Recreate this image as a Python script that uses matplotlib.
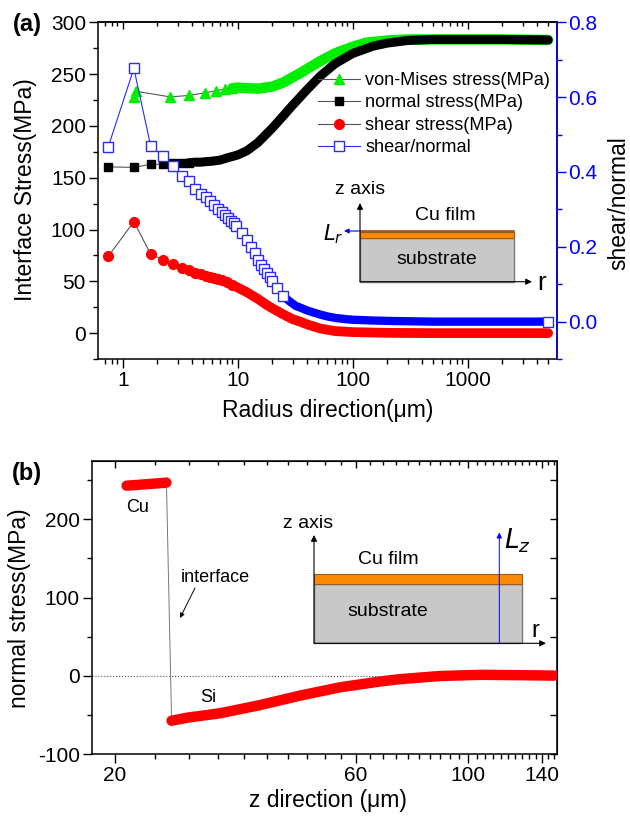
import numpy as np
import matplotlib
matplotlib.use("Agg")
import matplotlib.pyplot as plt
from matplotlib.patches import Rectangle
from matplotlib.ticker import NullFormatter, LogLocator

plt.rcParams["font.family"] = ["Liberation Sans", "DejaVu Sans"]
plt.rcParams["axes.unicode_minus"] = False

# ---- panel (a): interface stress along radius ----
r_vm = [1.25, 1.3, 2.6, 3.8, 5.2, 6.5, 7.8, 9, 10, 12, 15, 20, 25, 30, 35, 40, 52, 70,
        100, 133, 200, 300, 500, 1000, 2000, 5000]
vm = [228, 233.5, 228, 229.5, 232, 234, 236, 236.5, 237, 236.5, 236, 238, 242, 247, 251,
      255, 262.5, 270, 276.5, 280.5, 282.5, 283.5, 283.5, 283.5, 283.5, 283]

r_normal = [0.75, 1.25, 1.75, 2.25, 2.75, 3.25, 3.75, 4.25, 4.75, 5.25, 6, 7, 8, 10, 12,
            15, 20, 25, 30, 35, 40, 52, 70, 100, 150, 200, 300, 500, 1000, 2000, 5000]
normal = [160.5, 160, 163, 163, 164, 164.5, 164.5, 165, 165, 165.5, 166, 167, 169, 172,
          176, 184, 198, 210, 220, 228, 235, 248, 260, 270, 277, 280, 282.5, 283.5, 283.5,
          283.5, 283]

r_shear = [0.75, 1.25, 1.75, 2.25, 2.75, 3.25, 3.75, 4.25, 4.75, 5.25, 5.75, 6.25, 6.75,
           7.25, 8, 9, 10, 12, 15, 18, 20, 25, 30, 35, 40, 52, 70, 100, 200, 500, 1000, 5000]
shear = [74.2, 107.7, 76.1, 71, 67.1, 63.3, 61.3, 58.1, 57, 55.5, 54, 53, 52, 51, 49, 46.5,
         44, 39.5, 33, 27, 24, 18, 13.5, 11, 8.5, 4.5, 2, 1, 0.3, 0, 0, 0]

r_ratio = [0.75, 1.25, 1.75, 2.25, 2.75, 3.25, 3.75, 4.25, 4.75, 5.25, 5.75, 6.25, 6.75,
           7.25, 7.75, 8.25, 8.75, 9.25, 9.75, 11, 12, 13, 14, 15, 16, 17, 18, 19, 20, 22,
           25, 28, 32, 36, 40, 45, 52, 60, 70, 85, 100, 150, 200, 300, 500, 1000, 2000, 5000]
ratio = [0.468, 0.677, 0.470, 0.442, 0.415, 0.390, 0.375, 0.355, 0.341, 0.332, 0.322,
         0.312, 0.302, 0.294, 0.286, 0.278, 0.270, 0.263, 0.255, 0.236, 0.218, 0.200,
         0.183, 0.166, 0.152, 0.140, 0.130, 0.119, 0.108, 0.090, 0.068, 0.055, 0.042,
         0.036, 0.030, 0.025, 0.019, 0.014, 0.010, 0.007, 0.005, 0.003, 0.002, 0.001,
         0.0, 0.0, 0.0, 0.0]

legend_labels = ["von-Mises stress(MPa)", "normal stress(MPa)", "shear stress(MPa)",
                 "shear/normal"]

# ---- panel (b): normal stress along z ----
z_cu = [21.1, 22, 23, 24, 25, 25.3]
cu_stress = [242.5, 243.3, 244.3, 245.2, 246, 246.5]
z_si = [25.9, 27.9, 32.3, 38.8, 46.5, 55.9, 67, 73.4, 88, 106, 127, 148]
si_stress = [-57, -53, -47.5, -37, -25, -14.3, -7, -4, 0, 1.5, 1, 0.5]

GREEN, RED, BLUE = "#00ee00", "#ff0000", "#0000ff"
SQ_EDGE = "#2a2aff"
LINE = "#555555"
TICK_FS = 15
LAB_FS = 16.5

fig = plt.figure(figsize=(6.3, 8.16), dpi=100)


def series(ax, x, y, start, color, lw, line_color, **mk):
    # sparse part: symbols joined by a thin line; dense part: symbols merge into a band
    x = np.array(x)
    y = np.array(y)
    few = x <= start
    h, = ax.plot(x[few], y[few], "-", color=line_color, lw=0.8, zorder=4, **mk)
    many = x >= start
    ax.plot(x[many], y[many], color=color, lw=lw, solid_capstyle="round", zorder=3)
    return h


# panel (a)
ax = fig.add_axes([0.1551, 0.5600, 0.7286, 0.4126])
ax2 = ax.twinx()

h_vm = series(ax, r_vm, vm, 9, GREEN, 7.5, LINE, marker="^", ms=7.5, mfc=GREEN, mec=GREEN)
h_n = series(ax, r_normal, normal, 3.75, "k", 6.5, LINE, marker="s", ms=6, mfc="k", mec="k")
h_s = series(ax, r_shear, shear, 9, RED, 7, LINE, marker="o", ms=7, mfc=RED, mec=RED)
h_r = series(ax2, r_ratio, ratio, 25, BLUE, 6, SQ_EDGE, marker="s", ms=6.5, mfc="white",
             mec=SQ_EDGE, mew=1)
ax2.plot([r_ratio[-1]], [ratio[-1]], "s", ms=6.5, mfc="white", mec=SQ_EDGE, zorder=5)

ax.set_xscale("log")
ax.set_xlim(0.606, 5940)
ax.set_ylim(-25, 300)
ax2.set_ylim(-0.1, 0.8)
ax.set_yticks(range(0, 301, 50))
ax.set_yticks(range(-25, 300, 50), minor=True)
ax2.set_yticks([0.0, 0.2, 0.4, 0.6, 0.8])
ax2.set_yticks([-0.1, 0.1, 0.3, 0.5, 0.7], minor=True)
ax.set_xticks([1, 10, 100, 1000], labels=["1", "10", "100", "1000"])
ax.xaxis.set_minor_locator(LogLocator(subs=np.arange(2, 10)))
ax.xaxis.set_minor_formatter(NullFormatter())

for a in (ax, ax2):
    a.tick_params(which="major", length=6.5, width=1, labelsize=TICK_FS, pad=2)
    a.tick_params(which="minor", length=3.5, width=1)
    for s in a.spines.values():
        s.set_linewidth(1.1)
ax.tick_params(axis="both", which="both", direction="out")
ax2.tick_params(axis="y", which="both", direction="out", colors=BLUE)
ax2.spines["right"].set_color(BLUE)
ax2.spines["left"].set_visible(False)
ax2.spines["top"].set_visible(False)
ax2.spines["bottom"].set_visible(False)

top = ax.secondary_xaxis("top")
top.tick_params(which="major", direction="in", length=5, width=1, labeltop=False)
top.tick_params(which="minor", direction="in", length=3, width=1)
top.set_xticks([1, 10, 100, 1000])
top.xaxis.set_minor_locator(LogLocator(subs=np.arange(2, 10)))
top.xaxis.set_minor_formatter(NullFormatter())
top.spines["top"].set_linewidth(1.1)

fig.legend([h_vm, h_n, h_s, h_r], legend_labels, loc="upper left",
           bbox_to_anchor=(318 / 630, 1 - 72 / 816), frameon=False, fontsize=13.1,
           handlelength=2.3, handletextpad=0.3, labelspacing=0.3, borderpad=0,
           borderaxespad=0)

# panel (b)
bx = fig.add_axes([0.1456, 0.0754, 0.7386, 0.3597])
bx.axhline(0, ls=":", color="#555555", lw=0.8, zorder=1)
bx.plot([z_cu[-1], z_si[0]], [cu_stress[-1], si_stress[0]], color="#777777", lw=0.7,
        zorder=2)
bx.plot(z_cu, cu_stress, color=RED, lw=7.5, solid_capstyle="round", zorder=3)
bx.plot(z_si, si_stress, color=RED, lw=7.5, solid_capstyle="round", zorder=3)

bx.set_xscale("log")
bx.set_xlim(18, 150)
bx.set_ylim(-100, 274)
zmaj = [20, 60, 100, 140]
zmin = [v for v in range(24, 150, 4) if v not in zmaj]
bx.set_xticks(zmaj, labels=[str(v) for v in zmaj])
bx.set_xticks(zmin, minor=True)
bx.xaxis.set_minor_formatter(NullFormatter())
bx.set_yticks([-100, 0, 100, 200])
bx.set_yticks([-50, 50, 150, 250], minor=True)
bx.tick_params(which="major", direction="out", length=6.5, width=1, labelsize=TICK_FS,
               pad=2)
bx.tick_params(which="minor", direction="out", length=3.5, width=1)
for s in bx.spines.values():
    s.set_linewidth(1.1)

btop = bx.secondary_xaxis("top")
btop.set_xticks(zmaj)
btop.set_xticks(zmin, minor=True)
btop.tick_params(which="major", direction="in", length=5, width=1, labeltop=False)
btop.tick_params(which="minor", direction="in", length=3, width=1)
btop.xaxis.set_minor_formatter(NullFormatter())
bright = bx.secondary_yaxis("right")
bright.set_yticks([-100, 0, 100, 200])
bright.set_yticks([-50, 50, 150, 250], minor=True)
bright.tick_params(which="major", direction="in", length=5, width=1, labelright=False)
bright.tick_params(which="minor", direction="in", length=5, width=1)

# axis labels and panel letters
fig.text(26 / 630, 1 - 190 / 816, "Interface Stress(MPa)", rotation=90, ha="center",
         va="center", fontsize=LAB_FS)
fig.text(619 / 630, 1 - 203 / 816, "shear/normal", rotation=90, ha="center", va="center",
         fontsize=LAB_FS)
fig.text(328 / 630, 1 - 410 / 816, "Radius direction(\u03bcm)", ha="center", va="center",
         fontsize=LAB_FS)
fig.text(20 / 630, 1 - 608 / 816, "normal stress(MPa)", rotation=90, ha="center",
         va="center", fontsize=LAB_FS)
fig.text(328 / 630, 1 - 800 / 816, "z direction (\u03bcm)", ha="center", va="center",
         fontsize=LAB_FS)
fig.text(27 / 630, 1 - 24 / 816, "(a)", ha="center", va="center", fontsize=17,
         fontweight="bold")
fig.text(27 / 630, 1 - 473 / 816, "(b)", ha="center", va="center", fontsize=17,
         fontweight="bold")

# schematic insets drawn in figure pixel space
ov = fig.add_axes([0, 0, 1, 1], zorder=10)
ov.set_xlim(0, 630)
ov.set_ylim(816, 0)
ov.axis("off")
ov.patch.set_visible(False)


def arrow(x0, y0, x1, y1, color="k", lw=0.8, ms=9):
    ov.annotate("", xy=(x1, y1), xytext=(x0, y0),
                arrowprops=dict(arrowstyle="-|>", color=color, lw=lw, mutation_scale=ms,
                                shrinkA=0, shrinkB=0))


# inset (a)
ov.add_patch(Rectangle((360, 238.3), 154.3, 43.4, fc="#c8c8c8", ec="#7a7a7a", lw=1))
ov.add_patch(Rectangle((360, 232.3), 154.3, 6, fc="#ff8a00", ec="#9a5a20", lw=0.8))
ov.add_patch(Rectangle((360, 230), 154.3, 2.3, fc="#a0522d", ec="#9a5a20", lw=0.5))
arrow(360, 281.7, 360, 203)
arrow(360, 281.7, 532, 281.7)
arrow(360, 231, 344, 231, color=BLUE, lw=0.8, ms=7)
ov.text(360, 190, "z axis", ha="center", va="center", fontsize=14)
ov.text(445, 215, "Cu film", ha="center", va="center", fontsize=14)
ov.text(437, 259, "substrate", ha="center", va="center", fontsize=14)
ov.text(542, 283, "r", ha="center", va="center", fontsize=19)
ov.text(333, 234, "$L_r$", ha="center", va="center", fontsize=15)

# inset (b)
ov.add_patch(Rectangle((314, 584.3), 207.7, 59, fc="#c8c8c8", ec="#7a7a7a", lw=1))
ov.add_patch(Rectangle((314, 574.3), 207.7, 10, fc="#ff8a00", ec="#9a5a20", lw=0.8))
arrow(314, 643.3, 314, 535)
arrow(314, 643.3, 546, 643.3)
arrow(499.3, 643.3, 499.3, 532.5, color=BLUE, lw=0.7, ms=8)
ov.text(308, 524, "z axis", ha="center", va="center", fontsize=14)
ov.text(388, 559, "Cu film", ha="center", va="center", fontsize=14)
ov.text(388, 611, "substrate", ha="center", va="center", fontsize=14)
ov.text(535, 631, "r", ha="center", va="center", fontsize=17)
ov.text(517, 541, "$L_z$", ha="center", va="center", fontsize=19)

# annotations (b)
ov.text(138, 507, "Cu", ha="center", va="center", fontsize=13)
ov.text(215, 577, "interface", ha="center", va="center", fontsize=13)
ov.text(208, 697, "Si", ha="center", va="center", fontsize=13)
arrow(195, 588, 180, 618, lw=0.7, ms=7)

fig.savefig("out.png", dpi=100)
